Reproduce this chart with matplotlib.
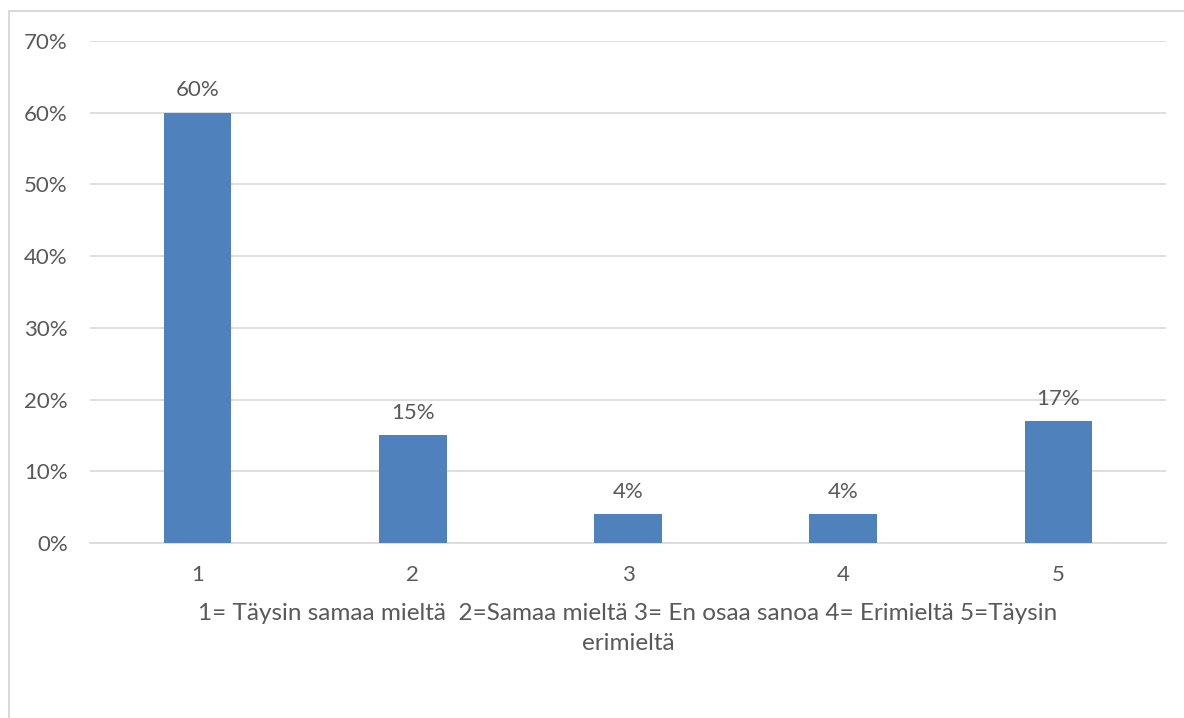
import matplotlib.pyplot as plt
from matplotlib.patches import Rectangle

# answer categories and share of responses (%)
categories = ["1", "2", "3", "4", "5"]
shares = [60, 15, 4, 4, 17]
y_ticks = [0, 10, 20, 30, 40, 50, 60, 70]
x_title = "1= Täysin samaa mieltä  2=Samaa mieltä 3= En osaa sanoa 4= Erimieltä 5=Täysin\nerimieltä"

text_col = "#595959"
grid_col = "#d9d9d9"
bar_col = "#4f81bd"

plt.rcParams["font.family"] = ["Lato", "DejaVu Sans"]

fig = plt.figure(figsize=(11.84, 7.18), dpi=100)
# chart border
fig.patches.append(Rectangle((9 / 1184, -0.1), 1.2, 0.1 + (718 - 11) / 718,
                             transform=fig.transFigure, fill=False,
                             edgecolor=grid_col, linewidth=1.5))

ax = fig.add_axes([90 / 1184, (718 - 543) / 718, (1166 - 90) / 1184, (543 - 41) / 718])
x = range(len(categories))
bars = ax.bar(x, shares, width=0.315, color=bar_col, zorder=3)

for b, v in zip(bars, shares):
    ax.annotate(f"{v}%", (b.get_x() + b.get_width() / 2, v), xytext=(0, 9),
                textcoords="offset points", ha="center", va="bottom",
                fontsize=16, color=text_col)

ax.set_xlim(-0.5, len(categories) - 0.5)
ax.set_ylim(0, 70)
ax.set_yticks(y_ticks)
ax.set_yticklabels([f"{t}%" for t in y_ticks])
ax.set_xticks(list(x))
ax.set_xticklabels(categories)
ax.tick_params(axis="both", length=0, labelsize=16, labelcolor=text_col)
ax.tick_params(axis="x", pad=16)
ax.tick_params(axis="y", pad=16)
ax.grid(axis="y", color=grid_col, linewidth=1.2, zorder=0)
for s in ["top", "right", "left"]:
    ax.spines[s].set_visible(False)
ax.spines["bottom"].set_color(grid_col)
ax.spines["bottom"].set_linewidth(1.2)
ax.set_xlabel(x_title, fontsize=17.5, color=text_col, labelpad=13, linespacing=1.5)

plt.savefig("out.png", dpi=100)
